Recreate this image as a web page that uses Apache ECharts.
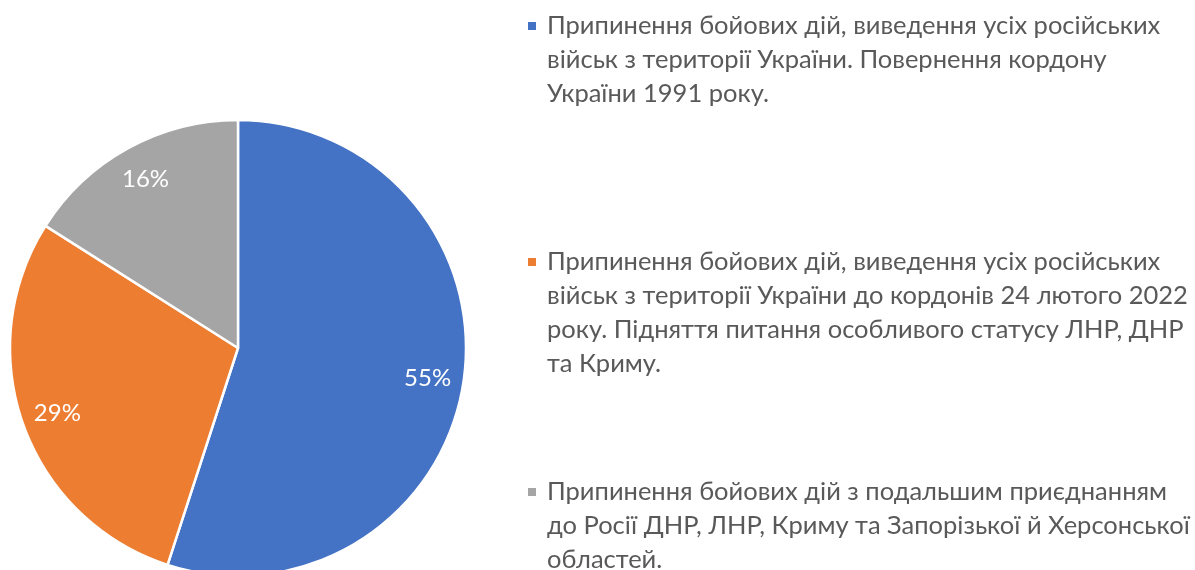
<!DOCTYPE html>
<html>
<head>
<meta charset="utf-8">
<script src="https://cdn.jsdelivr.net/npm/echarts@6/dist/echarts.min.js"></script>
<style>
  html, body { margin: 0; padding: 0; background: #fff; }
  #chart { width: 1195px; height: 570px; }
</style>
</head>
<body>
<div id="chart"></div>
<script>
// legend texts (line breaks as in the picture)
const categories = [
  'Припинення бойових дій, виведення усіх російських\nвійськ з території України. Повернення кордону\nУкраїни 1991 року.',
  'Припинення бойових дій, виведення усіх російських\nвійськ з території України до кордонів 24 лютого 2022\nроку. Підняття питання особливого статусу ЛНР, ДНР\nта Криму.',
  'Припинення бойових дій з подальшим приєднанням\nдо Росії ДНР, ЛНР, Криму та Запорізької й Херсонської\nобластей.'
];
const values = [55, 29, 16];
const colors = ['#4472C4', '#ED7D31', '#A5A5A5'];
const legendTops = [26, 262, 492]; // icon centre of each legend item

const FONT = "Lato, 'Noto Sans', sans-serif";
const LINE_H = 34;

const pieData = categories.map((name, i) => ({ name: name, value: values[i] }));

// one legend per item so the gaps can follow the picture;
// blank lines in front keep the icon level with the first text line
const legends = categories.map((name, i) => {
  const n = name.split('\n').length;
  const h = (2 * n - 1) * LINE_H;
  return {
    data: [name],
    left: 526,
    top: legendTops[i] - h / 2,
    padding: 0,
    orient: 'vertical',
    icon: 'rect',
    itemWidth: 10,
    itemHeight: 10,
    selectedMode: false,
    formatter: nm => '\n'.repeat(n - 1) + nm,
    textStyle: {
      fontFamily: FONT,
      fontSize: 25.5,
      lineHeight: LINE_H,
      color: '#595959',
      padding: [0, 0, 0, 5]
    }
  };
});

const chart = echarts.init(document.getElementById('chart'));
chart.setOption({
  animation: false,
  color: colors,
  legend: legends,
  series: [
    {
      type: 'pie',
      center: [238, 348],
      radius: 228,
      startAngle: 90,
      clockwise: true,
      data: pieData,
      label: { show: false },
      labelLine: { show: false },
      itemStyle: { borderColor: '#fff', borderWidth: 2.5 },
      emphasis: { disabled: true }
    },
    {
      // transparent ring just to carry the labels further out
      type: 'pie',
      center: [238, 348],
      radius: [150, 228],
      startAngle: 90,
      clockwise: true,
      silent: true,
      data: pieData,
      itemStyle: { color: 'transparent', borderWidth: 0 },
      label: {
        show: true,
        position: 'inside',
        formatter: '{c}%',
        color: '#fff',
        fontFamily: FONT,
        fontSize: 24
      },
      labelLine: { show: false },
      emphasis: { disabled: true }
    }
  ]
});
</script>
</body>
</html>
